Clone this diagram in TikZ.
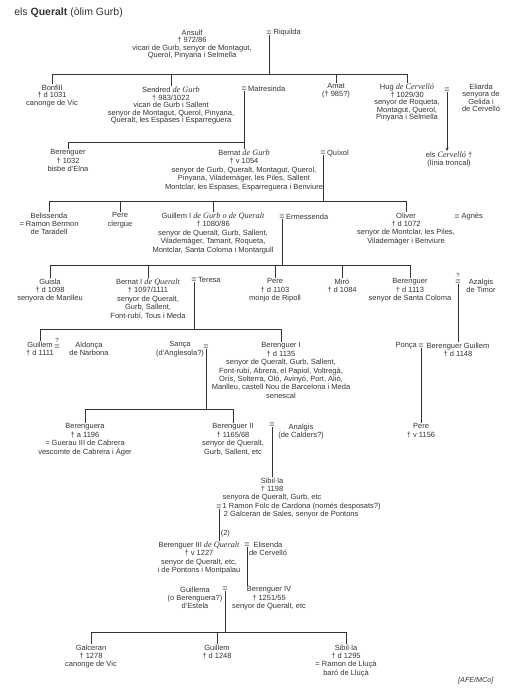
\documentclass[tikz,border=0pt]{standalone}
\usepackage{fontspec}
\setmainfont{Liberation Sans}
\newfontfamily\serifit{Liberation Serif}[Scale=1.1]
\newcommand\cog[1]{{\serifit\itshape #1}}

\begin{document}
\begin{tikzpicture}[x=1pt,y=-1pt,>=stealth,color=black!80,line width=0.5pt,
  every node/.style={font=\fontsize{7.5}{8.4}\selectfont},
  p/.style={align=center,anchor=north,inner sep=0.5pt},
  dens/.style={font=\fontsize{7.5}{7.6}\selectfont},
  eq/.style={inner sep=0pt,font=\fontsize{9}{9}\selectfont},
  dubte/.style={anchor=south,inner sep=0.5pt,yshift=1.5pt,font=\fontsize{6}{6}\selectfont}]
  \useasboundingbox (0,0) rectangle (511,700);
  \node[anchor=west,inner sep=0pt,font=\fontsize{10.5}{12}\selectfont] (titol) at (14,13) {els \textbf{Queralt} (òlim Gurb)};

  % Ansulf i Riquilda
  \node[p,dens] (ansulf) at (192,29) {Ansulf\\† 972/86\\vicari de Gurb, senyor de Montagut,\\Querol, Pinyana i Selmella};
  \node[eq] (e1) at (269,33) {=};
  \node[anchor=west,inner sep=1.5pt] (riquilda) at (e1.east) {Riquilda};

  \coordinate (b1) at (0,74);
  \node[p,dens] (bonfill) at (52,84) {Bonfill\\† d 1031\\canonge de Vic};
  \node[p,dens] (sendred) at (171,86) {Sendred \cog{de Gurb}\\† 983/1022\\vicari de Gurb i Sallent\\senyor de Montagut, Querol, Pinyana,\\Queralt, les Espases i Esparreguera};
  \node[eq] (e2) at (244,89) {=};
  \node[anchor=west,inner sep=1pt] (matresinda) at (e2.east) {Matresinda};
  \node[p,dens] (amat) at (336,83) {Amat\\(† 985?)};
  \node[p,dens] (hug) at (407,83) {Hug \cog{de Cervelló}\\† 1029/30\\senyor de Roqueta,\\Montagut, Querol,\\Pinyana i Selmella};
  \node[eq] (e3) at (447,90) {=};
  \node[p,dens] (eliarda) at (481,83) {Eliarda\\senyora de\\Gelida i\\de Cervelló};
  \node[p,dens] (cervello) at (449,151) {els \cog{Cervelló} †\\(línia troncal)};
  \draw (e1.south) -- (e1.south |- b1);
  \draw (bonfill.north) |- (b1 -| hug.north) -- (hug.north);
  \draw (sendred.north) -- (sendred.north |- b1);
  \draw (amat.north) -- (amat.north |- b1);
  \draw[->] (e3.south) -- (e3.south |- cervello.north);

  % Bernat de Gurb
  \coordinate (b2) at (0,142);
  \node[p] (bere1) at (68,149) {Berenguer\\† 1032\\bisbe d'Elna};
  \node[p] (bernat) at (244,149) {Bernat \cog{de Gurb}\\† v 1054\\senyor de Gurb, Queralt, Montagut, Querol,\\Pinyana, Vilademàger, les Piles, Sallent\\Montclar, les Espases, Esparreguera i Benviure};
  \node[eq] (e4) at (323,153) {=};
  \node[anchor=west,inner sep=1pt] (quixol) at (e4.east) {Quíxol};
  \draw (e2.south) -- (bernat.north);
  \draw (bere1.north) |- (b2 -| bernat.north);

  % Guillem I
  \coordinate (b3) at (0,201);
  \node[p] (belis) at (49,212) {Belissenda\\= Ramon Bermon\\de Taradell};
  \node[p] (pere1) at (120,212) {Pere\\clergue};
  \node[p] (guillem1) at (213,212) {Guillem I \cog{de Gurb o de Queralt}\\† 1080/86\\senyor de Queralt, Gurb, Sallent,\\Vilademàger, Tamarit, Roqueta,\\Montclar, Santa Coloma i Montargull};
  \node[eq] (e5) at (282,217) {=};
  \node[anchor=west,inner sep=1pt] (ermessenda) at (e5.east) {Ermessenda};
  \node[p] (oliver) at (406,212) {Oliver\\† d 1072\\senyor de Montclar, les Piles,\\Vilademàger i Benviure};
  \node[eq] (e6) at (457,217) {=};
  \node[anchor=west,inner sep=1.5pt] (agnes) at (e6.east) {Agnès};
  \draw (e4.south) -- (e4.south |- b3);
  \draw (belis.north) |- (b3 -| oliver.north) -- (oliver.north);
  \draw (pere1.north) -- (pere1.north |- b3);
  \draw (guillem1.north) -- (guillem1.north |- b3);

  % Bernat I
  \coordinate (b4) at (0,265);
  \node[p] (guisla) at (50,278) {Guisla\\† d 1098\\senyora de Manlleu};
  \node[p] (bernat1) at (148,278) {Bernat I \cog{de Queralt}\\† 1097/1111\\senyor de Queralt,\\Gurb, Sallent,\\Font-rubí, Tous i Meda};
  \node[eq] (e7) at (194,280) {=};
  \node[anchor=west,inner sep=1pt] (teresa) at (e7.east) {Teresa};
  \node[p] (pere2) at (275,278) {Pere\\† d 1103\\monjo de Ripoll};
  \node[p] (miro) at (342,278) {Miró\\† d 1084};
  \node[p] (bere2) at (410,278) {Berenguer\\† d 1113\\senyor de Santa Coloma};
  \node[eq] (e8) at (458,282) {=};
  \node[dubte] (q1) at (e8.north) {?};
  \node[p] (azalgis) at (481,278) {Azalgis\\de Timor};
  \draw (e5.south) -- (e5.south |- b4);
  \draw (guisla.north) |- (b4 -| bere2.north) -- (bere2.north);
  \draw (bernat1.north) -- (bernat1.north |- b4);
  \draw (pere2.north) -- (pere2.north |- b4);
  \draw (miro.north) -- (miro.north |- b4);

  % Berenguer I
  \coordinate (b5) at (0,329);
  \node[p] (guillem2) at (40,341) {Guillem\\† d 1111};
  \node[eq] (e9) at (57,347) {=};
  \node[dubte] (q2) at (e9.north) {?};
  \node[p] (aldonca) at (89,341) {Aldonça\\de Narbona};
  \node[p] (sanca) at (180,341) {Sança\\(d'Anglesola?)};
  \node[eq] (e10) at (206,347) {=};
  \node[p] (bereI) at (281,342) {Berenguer I\\† d 1135\\senyor de Queralt, Gurb, Sallent,\\Font-rubí, Abrera, el Papiol, Voltregà,\\Orís, Solterra, Oló, Avinyó, Port, Aliò,\\Manlleu, castell Nou de Barcelona i Meda\\senescal};
  \node[eq] (e11) at (421,346) {=};
  \node[anchor=east,inner sep=1pt] (ponca) at (e11.west) {Ponça};
  \node[p] (bguillem) at (458,342) {Berenguer Guillem\\† d 1148};
  \draw (e7.south) -- (e7.south |- b5);
  \draw (guillem2.north) |- (b5 -| bereI.north) -- (bereI.north);
  \draw (e8.south) -- (e8.south |- bguillem.north);

  % Berenguer II
  \coordinate (b6) at (0,409);
  \node[p] (berenguera) at (85,423) {Berenguera\\† a 1196\\= Guerau III de Cabrera\\vescomte de Cabrera i Àger};
  \node[p] (bereII) at (233,423) {Berenguer II\\† 1165/68\\senyor de Queralt,\\Gurb, Sallent, etc};
  \node[eq] (e12) at (272,425) {=};
  \node[p] (analgis) at (301,423) {Analgis\\(de Calders?)};
  \node[p] (pere3) at (421,423) {Pere\\† v 1156};
  \draw (e10.south) -- (e10.south |- b6);
  \draw (berenguera.north) |- (b6 -| bereII.north) -- (bereII.north);
  \draw (e11.south) -- (e11.south |- pere3.north);

  % Sibil·la
  \node[p] (sibilla) at (272,477) {Sibil·la\\† 1198\\senyora de Queralt, Gurb, etc};
  \node[eq] (e13) at (219,507) {=};
  \node[anchor=west,inner sep=0.5pt] (marit1) at (e13.east) {1 Ramon Folc de Cardona (només desposats?)};
  \node[anchor=west,inner sep=0.5pt] (marit2) at (223,515) {2 Galceran de Sales, senyor de Pontons};
  \node[anchor=west,inner sep=0.5pt] (n2) at (220,534) {(2)};
  \draw (e12.south) -- (e12.south |- sibilla.north);

  % Berenguer III i IV
  \node[p] (bereIII) at (199,541) {Berenguer III \cog{de Queralt}\\† v 1227\\senyor de Queralt, etc,\\i de Pontons i Montpalau};
  \node[eq] (e14) at (247,545) {=};
  \node[p] (elisenda) at (268,541) {Elisenda\\de Cervelló};
  \node[p] (guillema) at (195,586) {Guillema\\(o Berenguera?)\\d'Estela};
  \node[eq] (e15) at (225,589) {=};
  \node[p] (bereIV) at (269,586) {Berenguer IV\\† 1251/55\\senyor de Queralt, etc};
  \draw (e13.south) -- (e13.south |- bereIII.north);
  \draw (e14.south) -- (e14.south |- bereIV.north);

  % darrera generacio
  \coordinate (b7) at (0,632);
  \node[p] (galceran) at (91,644) {Galceran\\† 1278\\canonge de Vic};
  \node[p] (guillem3) at (217,644) {Guillem\\† d 1248};
  \node[p] (sibilla2) at (346,644) {Sibil·la\\† d 1295\\= Ramon de Lluçà\\baró de Lluçà};
  \draw (e15.south) -- (e15.south |- b7);
  \draw (galceran.north) |- (b7 -| sibilla2.north) -- (sibilla2.north);
  \draw (guillem3.north) -- (guillem3.north |- b7);

  \node[anchor=east,font=\fontsize{7.2}{8.3}\selectfont\itshape] (autors) at (497,681) {[AFE/MCo]};
\end{tikzpicture}
\end{document}
